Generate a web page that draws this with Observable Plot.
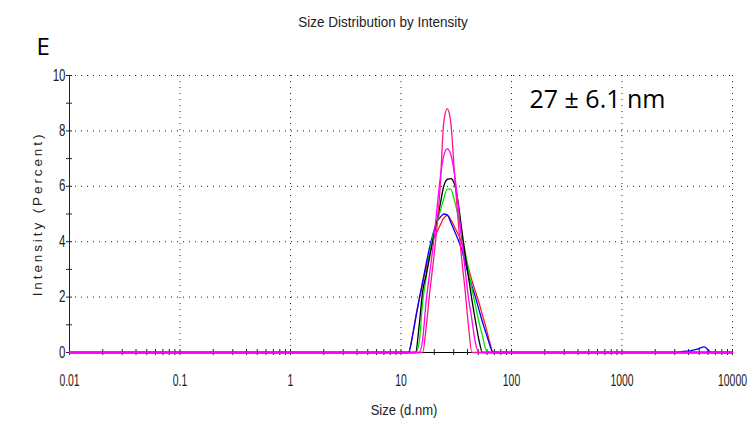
<!DOCTYPE html>
<html><head><meta charset="utf-8">
<script src="https://cdn.jsdelivr.net/npm/d3@7"></script>
<script src="https://cdn.jsdelivr.net/npm/@observablehq/plot@0.6"></script>
<style>
html,body{margin:0;padding:0;background:#fff;}
.ylab text{letter-spacing:2.9px;}
</style>
</head><body><div id="chart"></div>
<script>
// Size bins (d.nm)
const sizes = [0.01,
  11.7, 12.6, 13.54, 14.58, 15.69, 16.89, 18.17, 19.55, 21.04, 22.64, 24.36, 26.22, 28.21, 30.36,
  32.67, 35.16, 37.84, 40.72, 43.82, 47.16, 50.75, 54.61, 58.77, 63.25, 68.06, 73.25, 78.82,
  3091, 3580, 4145, 4801, 5560, 6439, 10000];

// Intensity (%) per run
const redRun = [0,
  0, 0.55, 1.25, 1.9, 2.5, 3.05, 3.6, 4.07, 4.33, 4.6, 4.85, 4.95, 4.8, 4.55,
  4.3, 4.0, 3.5, 3.05, 2.6, 2.2, 1.8, 1.35, 0.9, 0.4, 0, 0, 0,
  0, 0, 0, 0, 0, 0, 0];
const blueRun = [0,
  0, 0.5, 1.2, 1.9, 2.55, 3.2, 3.8, 4.3, 4.7, 4.88, 5.0, 4.97, 4.7, 4.4,
  4.1, 3.75, 3.3, 2.8, 2.4, 2.0, 1.55, 1.1, 0.7, 0.3, 0, 0, 0,
  0, 0.04, 0.06, 0.12, 0.2, 0, 0];
const greenRun = [0,
  0, 0, 0, 0.35, 1.8, 2.7, 3.55, 4.25, 4.7, 5.1, 5.55, 5.9, 5.9, 5.5,
  5.0, 4.3, 3.7, 3.0, 2.3, 1.7, 1.1, 0.6, 0.1, 0, 0, 0, 0,
  0, 0, 0, 0, 0, 0, 0];
const blackRun = [0,
  0, 0, 0, 0.95, 2.2, 2.8, 3.45, 4.1, 4.7, 5.35, 6.0, 6.25, 6.28, 6.1,
  5.5, 4.55, 3.6, 2.75, 1.9, 1.15, 0.45, 0, 0, 0, 0, 0, 0,
  0, 0, 0, 0, 0, 0, 0];
const pinkRun = [0,
  0, 0, 0, 0, 0, 0.9, 2.15, 3.23, 4.44, 6.0, 8.3, 8.8, 8.3, 6.57,
  4.89, 3.5, 2.33, 1.0, 0, 0, 0, 0, 0, 0, 0, 0, 0,
  0, 0, 0, 0, 0, 0, 0];
const magentaRun = [0,
  0, 0, 0, 0, 0.45, 1.85, 2.86, 3.86, 5.09, 6.3, 7.1, 7.35, 7.15, 6.5,
  5.45, 4.18, 3.08, 2.0, 1.18, 0.35, 0, 0, 0, 0, 0, 0, 0,
  0, 0, 0, 0, 0, 0, 0];

const seriesNames = ["Run 1", "Run 2", "Run 3", "Run 4", "Run 5", "Run 6"];
const seriesColors = ["#ff1a1a", "#0000ff", "#00e600", "#000000", "#ff1487", "#ff00ff"];
const seriesValues = [redRun, blueRun, greenRun, blackRun, pinkRun, magentaRun];

// Axis ticks and labels
const xMajor = [0.01, 0.1, 1, 10, 100, 1000, 10000];
const xTickLabels = ["0.01", "0.1", "1", "10", "100", "1000", "10000"];
const yMajor = [0, 2, 4, 6, 8, 10];
const yTickLabels = ["0", "2", "4", "6", "8", "10"];
const yMinor = [1, 3, 5, 7, 9];
const minorMultipliers = [2, 3, 4, 5, 6, 7, 8, 9];

const titleText = ["Size Distribution by Intensity"];
const panelLetter = ["E"];
const xLabel = ["Size (d.nm)"];
const yLabel = ["Intensity (Percent)"];
const annotation = [{size: 600, value: 9.1, label: "27 \u00b1 6.1 nm"}];

const xMinor = xMajor.slice(0, -1).flatMap(d => minorMultipliers.map(k => +(k * d).toPrecision(6)));

const rows = [];
seriesValues.forEach((vals, i) => vals.forEach((v, j) => rows.push({size: sizes[j], value: v, series: seriesNames[i]})));

const arial = "'Liberation Sans', Arial, sans-serif";

const chart = Plot.plot({
  width: 749, height: 425,
  marginLeft: 69, marginRight: 17, marginTop: 75, marginBottom: 73,
  style: {fontFamily: arial, background: "#fff", color: "#000"},
  x: {type: "log", domain: [0.01, 10000], axis: null},
  y: {domain: [0, 10], axis: null},
  color: {domain: seriesNames, range: seriesColors},
  marks: [
    Plot.gridY(yMajor.filter(d => d > 0), {stroke: "#222", strokeOpacity: 1, strokeDasharray: "1,5"}),
    Plot.gridX(xMajor.filter(d => d > 0.01), {stroke: "#222", strokeOpacity: 1, strokeDasharray: "1,5"}),
    Plot.ruleX([0.01], {y1: 0, y2: 10, stroke: "#222"}),
    Plot.ruleY([0], {stroke: "#000"}),
    Plot.ruleY(yMajor, {x1: 0.01, x2: 0.01, insetLeft: -3, insetRight: -3, stroke: "#222"}),
    Plot.ruleY(yMinor, {x1: 0.01, x2: 0.01, insetLeft: -3, insetRight: -3, stroke: "#222"}),
    Plot.ruleX(xMajor, {y1: 0, y2: 0, insetTop: -3, insetBottom: -3, stroke: "#222"}),
    Plot.ruleX(xMinor, {y1: 0, y2: 0, insetTop: -3, insetBottom: -3, stroke: "#222"}),
    Plot.line(rows, {x: "size", y: "value", z: "series", stroke: "series", curve: "monotone-x", strokeWidth: 1.3}),
    Plot.text(xMajor, {x: d => d, frameAnchor: "bottom", lineAnchor: "middle", dy: 28, text: (d, i) => xTickLabels[i], fontSize: 16, fill: "#222", className: "xtl"}),
    Plot.text(yMajor, {y: d => d, frameAnchor: "left", textAnchor: "end", lineAnchor: "middle", dx: -4, text: (d, i) => yTickLabels[i], fontSize: 16, fill: "#222", className: "ytl"}),
    Plot.text(titleText, {frameAnchor: "top", lineAnchor: "middle", dx: -18, dy: -53, fontSize: 15, fill: "#222", className: "ttl"}),
    Plot.text(panelLetter, {frameAnchor: "top-left", textAnchor: "start", lineAnchor: "middle", dx: -33, dy: -28, fontSize: 24, fontFamily: "'Open Sans', sans-serif"}),
    Plot.text(xLabel, {frameAnchor: "bottom", lineAnchor: "middle", dx: 3, dy: 58, fontSize: 15, fill: "#222", className: "xlab"}),
    Plot.text(yLabel, {frameAnchor: "left", textAnchor: "middle", dx: -32, rotate: -90, fontSize: 13.5, fill: "#222", className: "ylab"}),
    Plot.text(annotation, {x: "size", y: "value", text: "label", fontSize: 25, fontFamily: "'Open Sans', sans-serif", fill: "#000"})
  ]
});
document.getElementById("chart").appendChild(chart);

// Condense the narrow-looking texts
function condense(sel, factor) {
  d3.select(chart).selectAll(sel).each(function() {
    const w = this.getComputedTextLength();
    if (w > 0) {
      this.setAttribute("textLength", (w * factor).toFixed(2));
      this.setAttribute("lengthAdjust", "spacingAndGlyphs");
    }
  });
}
condense('g.xtl text', 0.65);
condense('g.ytl text', 0.72);
condense('g.ttl text', 0.9);
condense('g.xlab text', 0.87);
</script>
</body></html>
